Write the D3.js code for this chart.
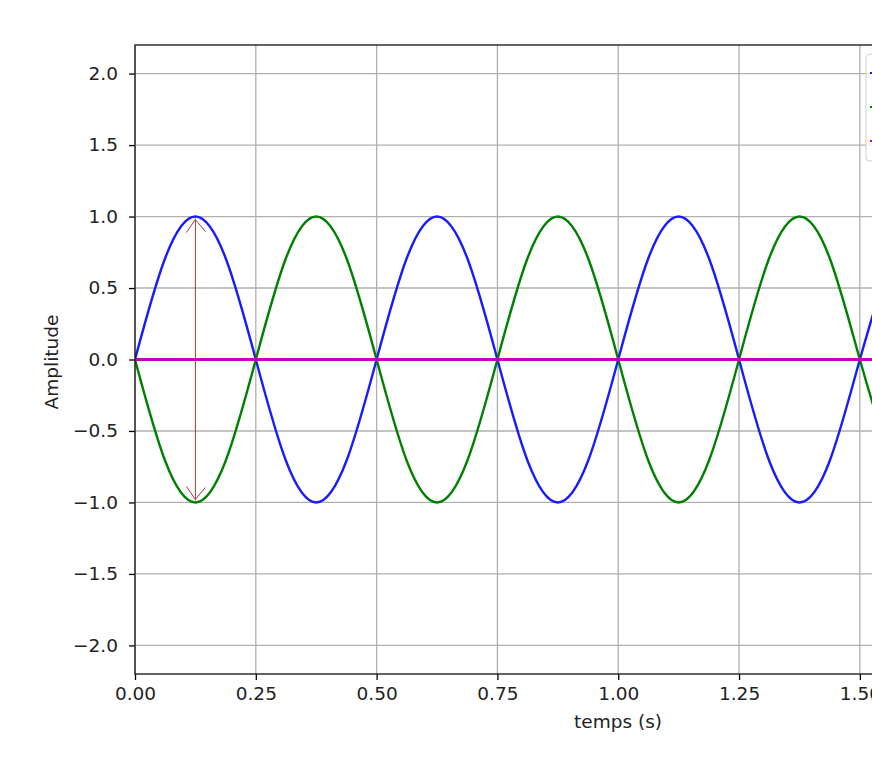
<!DOCTYPE html>
<html>
<head>
<meta charset="utf-8">
<script src="https://cdn.jsdelivr.net/npm/d3@7"></script>
<style>
  body { margin: 0; background: #fff; }
  text { font-family: "DejaVu Sans", sans-serif; }
</style>
</head>
<body>
<div id="chart"></div>
<script>
// time samples (s), every 1/16 s
const temps = [0, 0.0625, 0.125, 0.1875, 0.25, 0.3125, 0.375, 0.4375, 0.5,
  0.5625, 0.625, 0.6875, 0.75, 0.8125, 0.875, 0.9375, 1.0,
  1.0625, 1.125, 1.1875, 1.25, 1.3125, 1.375, 1.4375, 1.5, 1.5625];
// blue signal
const signal1 = [0, 0.71, 1, 0.71, 0, -0.71, -1, -0.71, 0,
  0.71, 1, 0.71, 0, -0.71, -1, -0.71, 0,
  0.71, 1, 0.71, 0, -0.71, -1, -0.71, 0, 0.71];
// green signal (opposite phase)
const signal2 = [0, -0.71, -1, -0.71, 0, 0.71, 1, 0.71, 0,
  -0.71, -1, -0.71, 0, 0.71, 1, 0.71, 0,
  -0.71, -1, -0.71, 0, 0.71, 1, 0.71, 0, -0.71];
// magenta sum
const somme = [0, 0, 0, 0, 0, 0, 0, 0, 0, 0, 0, 0, 0, 0, 0, 0, 0,
  0, 0, 0, 0, 0, 0, 0, 0, 0];

const xTicks = [0, 0.25, 0.5, 0.75, 1.0, 1.25, 1.5];
const yTicks = [-2.0, -1.5, -1.0, -0.5, 0.0, 0.5, 1.0, 1.5, 2.0];

// arrow annotation: from -1 to 1 at the first peak
const arrowT = 0.125;
const arrowFrom = -1, arrowTo = 1;

const width = 872, height = 768;
const mLeft = 135, mTop = 45, mBottom = 674, mRight = 1000;

const svg = d3.select("#chart").append("svg")
  .attr("width", width).attr("height", height);

const x = d3.scaleLinear().domain([0, 1.79]).range([mLeft, mRight]);
const y = d3.scaleLinear().domain([-2.2, 2.2]).range([mBottom, mTop]);

// grid
svg.append("g").selectAll("line").data(xTicks).enter().append("line")
  .attr("x1", d => x(d)).attr("x2", d => x(d))
  .attr("y1", mTop).attr("y2", mBottom)
  .attr("stroke", "#b0b0b0").attr("stroke-width", 1.3);
svg.append("g").selectAll("line").data(yTicks).enter().append("line")
  .attr("x1", mLeft).attr("x2", mRight)
  .attr("y1", d => y(d)).attr("y2", d => y(d))
  .attr("stroke", "#b0b0b0").attr("stroke-width", 1.3);

// clip to plot area
svg.append("clipPath").attr("id", "plot")
  .append("rect").attr("x", mLeft).attr("y", mTop)
  .attr("width", mRight - mLeft).attr("height", mBottom - mTop);

const series = [
  { vals: signal1, color: "#1a1aff", w: 2.4 },
  { vals: signal2, color: "#008000", w: 2.4 },
  { vals: somme, color: "#c000c0", w: 2.8 }
];

const line = d3.line().curve(d3.curveNatural);
const plot = svg.append("g").attr("clip-path", "url(#plot)");
series.forEach(s => {
  plot.append("path")
    .attr("d", line(temps.map((t, i) => [x(t), y(s.vals[i])])))
    .attr("fill", "none")
    .attr("stroke", s.color)
    .attr("stroke-width", s.w);
});

// double arrow
const arrowColor = "#a33a3a";
const ax = x(arrowT), ay1 = y(arrowTo), ay2 = y(arrowFrom);
const arr = svg.append("g").attr("stroke", arrowColor).attr("stroke-width", 1).attr("fill", "none");
arr.append("line").attr("x1", ax).attr("x2", ax).attr("y1", ay1 + 2).attr("y2", ay2 - 2);
arr.append("path").attr("d", `M${ax - 9},${ay1 + 16} L${ax},${ay1 + 3} L${ax + 10},${ay1 + 15}`);
arr.append("path").attr("d", `M${ax - 9},${ay2 - 16} L${ax},${ay2 - 3} L${ax + 10},${ay2 - 15}`);

// axes
const xAxis = d3.axisBottom(x).tickValues(xTicks).tickFormat(d3.format(".2f")).tickSize(6).tickPadding(7);
const yAxis = d3.axisLeft(y).tickValues(yTicks).tickFormat(d => d3.format(".1f")(d).replace("-", "\u2212")).tickSize(6).tickPadding(11);

const gx = svg.append("g").attr("transform", `translate(0,${mBottom})`).call(xAxis);
const gy = svg.append("g").attr("transform", `translate(${mLeft},0)`).call(yAxis);
[gx, gy].forEach(g => {
  g.select(".domain").remove();
  g.selectAll(".tick line").attr("stroke", "#000").attr("stroke-width", 1.3);
  g.selectAll(".tick text").attr("fill", "#222").style("font-size", "18.5px").style("font-family", "DejaVu Sans");
});

// spines
svg.append("rect").attr("x", mLeft).attr("y", mTop)
  .attr("width", mRight - mLeft).attr("height", mBottom - mTop)
  .attr("fill", "none").attr("stroke", "#222").attr("stroke-width", 1.4);

// axis labels
svg.append("text").attr("x", 618).attr("y", 728).attr("text-anchor", "middle")
  .style("font-size", "18.5px").attr("fill", "#222").text("temps (s)");
svg.append("text").attr("transform", "translate(58,362) rotate(-90)")
  .attr("text-anchor", "middle").style("font-size", "18.5px").attr("fill", "#222").text("Amplitude");

// legend (mostly cut off at the right edge)
const legend = svg.append("g");
legend.append("rect").attr("x", 866).attr("y", 54).attr("width", 120).attr("height", 107)
  .attr("rx", 4).attr("fill", "#fff").attr("fill-opacity", 0.8)
  .attr("stroke", "#d0d0d0").attr("stroke-width", 1);
legend.selectAll("line.key").data(series).enter().append("line")
  .attr("class", "key")
  .attr("x1", 870).attr("x2", 900)
  .attr("y1", (d, i) => 73 + i * 34).attr("y2", (d, i) => 73 + i * 34)
  .attr("stroke", d => d.color).attr("stroke-width", 2);
</script>
</body>
</html>
